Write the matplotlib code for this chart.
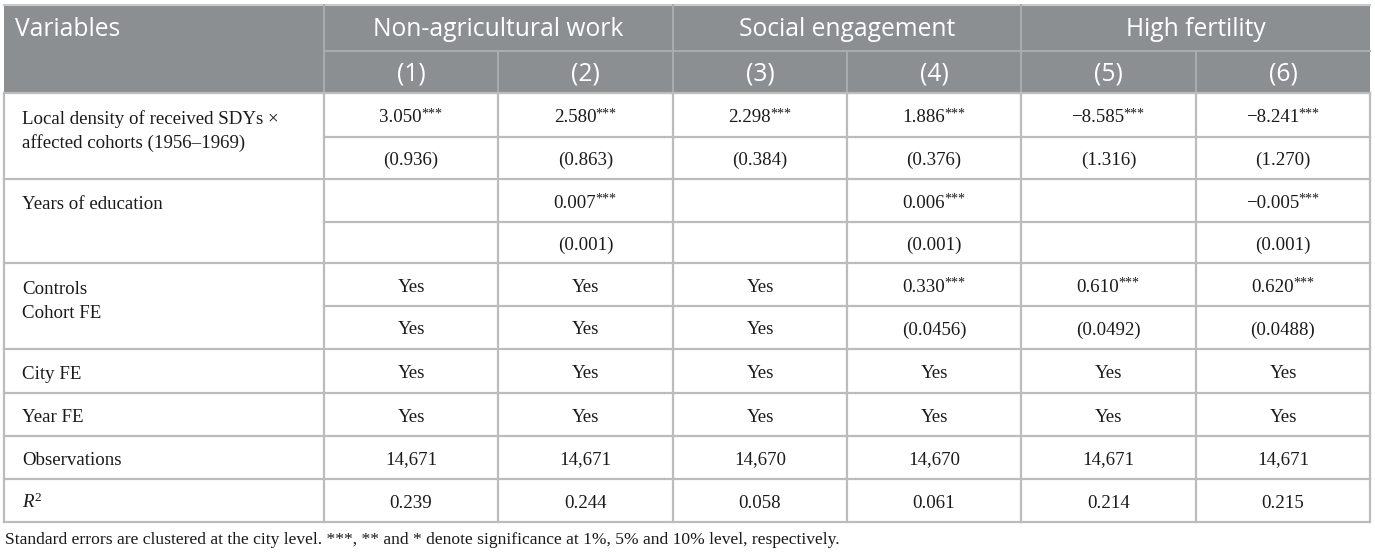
"""
=========================================================
Regression table: SDYs and later-life outcomes
=========================================================
"""
import matplotlib.pyplot as plt

# =====================================================
# Table content
# =====================================================
groups = ["Non-agricultural work", "Social engagement", "High fertility"]
columns = ["(1)", "(2)", "(3)", "(4)", "(5)", "(6)"]

density_coef = ["3.050***", "2.580***", "2.298***", "1.886***", "\u22128.585***", "\u22128.241***"]
density_se = ["(0.936)", "(0.863)", "(0.384)", "(0.376)", "(1.316)", "(1.270)"]
edu_coef = ["", "0.007***", "", "0.006***", "", "\u22120.005***"]
edu_se = ["", "(0.001)", "", "(0.001)", "", "(0.001)"]
controls_top = ["Yes", "Yes", "Yes", "0.330***", "0.610***", "0.620***"]
controls_bottom = ["Yes", "Yes", "Yes", "(0.0456)", "(0.0492)", "(0.0488)"]
city_fe = ["Yes", "Yes", "Yes", "Yes", "Yes", "Yes"]
year_fe = ["Yes", "Yes", "Yes", "Yes", "Yes", "Yes"]
observations = ["14,671", "14,671", "14,670", "14,670", "14,671", "14,671"]
r_squared = ["0.239", "0.244", "0.058", "0.061", "0.214", "0.215"]

footnote = ("Standard errors are clustered at the city level. ***, ** and * denote "
            "significance at 1%, 5% and 10% level, respectively.")

# =====================================================
# Layout (pixel units)
# =====================================================
W, H = 1375, 555
col_x = [4, 324, 498, 673, 847, 1021, 1196, 1370]
head_y = [5, 51, 93]
row_y = [93, 137, 179, 222, 263, 306, 349, 393, 436, 479, 522]

HEAD_BG = "#8b8f92"
HEAD_LINE = "#a9adb0"
GRID = "#bcbcbc"
TEXT = "#1a1a1a"

SERIF = "Liberation Serif"
SANS = "Open Sans"
BODY = 13.6
HEAD = 17.7

plt.rcParams["mathtext.fontset"] = "custom"
plt.rcParams["mathtext.rm"] = SERIF
plt.rcParams["mathtext.it"] = SERIF + ":italic"

fig = plt.figure(figsize=(W / 100, H / 100), dpi=100)
ax = fig.add_axes([0, 0, 1, 1])
ax.set_xlim(0, W)
ax.set_ylim(H, 0)
ax.axis("off")
renderer = fig.canvas.get_renderer()


def cell_text(value, cx, cy):
    # number centred in the cell, significance stars raised after it
    if value == "":
        return
    base = cy + 7
    stars = ""
    if value.endswith("*"):
        stars = value[len(value.rstrip("*")):]
        value = value.rstrip("*")
    t = ax.text(0, base, value, fontsize=BODY, family=SERIF,
                color=TEXT, ha="left", va="baseline")
    w = t.get_window_extent(renderer).width
    if not stars:
        t.set_x(cx - w / 2)
        return
    s = ax.text(0, base - 4.5, stars, fontsize=BODY * 0.74,
                family=SERIF, color=TEXT, ha="left", va="baseline")
    ws = s.get_window_extent(renderer).width
    x0 = cx - (w + ws) / 2
    t.set_x(x0)
    s.set_x(x0 + w - 0.8)


def fill_row(values, top, bottom):
    cy = (top + bottom) / 2
    for i, v in enumerate(values):
        cell_text(v, (col_x[i + 1] + col_x[i + 2]) / 2, cy)


# =====================================================
# Header
# =====================================================
ax.add_patch(plt.Rectangle((col_x[0], head_y[0]), col_x[-1] - col_x[0],
                           head_y[2] - head_y[0], color=HEAD_BG, lw=0))
ax.plot([col_x[0], col_x[-1]], [head_y[0] - 0.5, head_y[0] - 0.5],
        color="#c8cacb", lw=1.5)
ax.plot([col_x[1], col_x[-1]], [head_y[1], head_y[1]], color=HEAD_LINE, lw=1.4)
for x in col_x[1:-1:2]:
    ax.plot([x, x], [head_y[0], head_y[2]], color=HEAD_LINE, lw=1.4)
for x in col_x[2:-1:2]:
    ax.plot([x, x], [head_y[1], head_y[2]], color=HEAD_LINE, lw=1.4)

ax.text(15, (head_y[0] + head_y[1]) / 2 + 2, "Variables", fontsize=HEAD,
        family=SANS, color="white", ha="left", va="center")
for g, name in enumerate(groups):
    gx = (col_x[1 + 2 * g] + col_x[3 + 2 * g]) / 2
    ax.text(gx, (head_y[0] + head_y[1]) / 2 + 2, name, fontsize=HEAD,
            family=SANS, color="white", ha="center", va="center")
for i, c in enumerate(columns):
    ax.text((col_x[i + 1] + col_x[i + 2]) / 2, (head_y[1] + head_y[2]) / 2 + 2, c,
            fontsize=HEAD, family=SANS, color="white", ha="center", va="center")

# =====================================================
# Body grid
# =====================================================
# full-width rules (block boundaries)
for y in [row_y[0], row_y[2], row_y[4], row_y[6], row_y[7], row_y[8],
          row_y[9], row_y[10]]:
    ax.plot([col_x[0], col_x[-1]], [y, y], color=GRID, lw=1.6)
# rules inside the data columns only
for y in [row_y[1], row_y[3], row_y[5]]:
    ax.plot([col_x[1], col_x[-1]], [y, y], color=GRID, lw=1.6)
for x in col_x:
    ax.plot([x, x], [row_y[0], row_y[-1]], color=GRID, lw=1.6)

# =====================================================
# Body text
# =====================================================
labels = [
    ("Local density of received SDYs \u00d7", 118),
    ("affected cohorts (1956\u20131969)", 142),
    ("Years of education", 203),
    ("Controls", 288),
    ("Cohort FE", 312),
    ("City FE", 373),
    ("Year FE", 416),
    ("Observations", 459),
    ("$R^2$", 502),
]
for text, y in labels:
    ax.text(22, y + 6, text, fontsize=BODY, family=SERIF, color=TEXT,
            ha="left", va="baseline")

body_rows = [density_coef, density_se, edu_coef, edu_se, controls_top,
             controls_bottom, city_fe, year_fe, observations, r_squared]
for k, values in enumerate(body_rows):
    fill_row(values, row_y[k], row_y[k + 1])

ax.text(5, 544, footnote, fontsize=12.6, family=SERIF, color=TEXT,
        ha="left", va="baseline")

fig.savefig("out.png", dpi=100)
plt.close(fig)
